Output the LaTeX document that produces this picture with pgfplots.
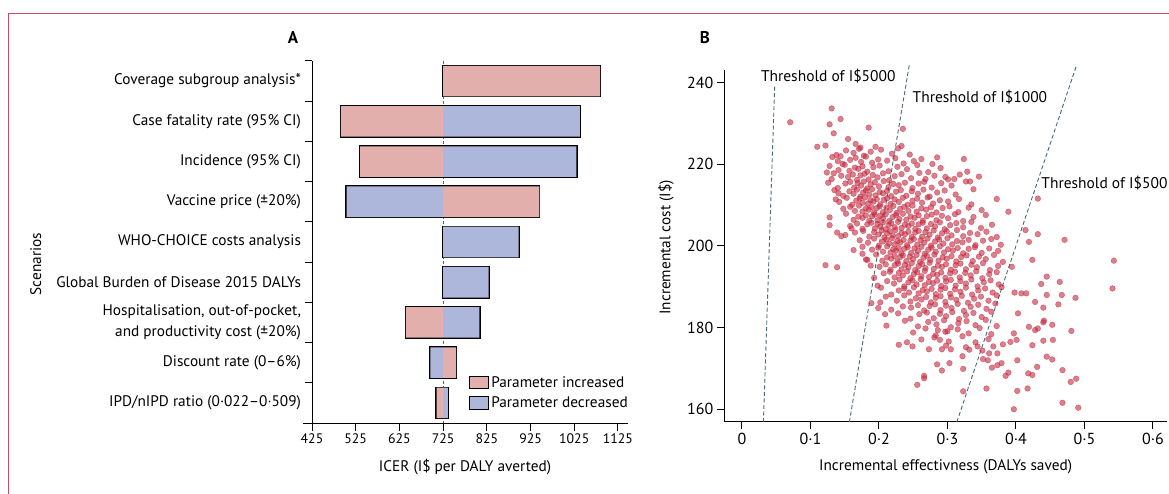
\documentclass[border=0pt]{standalone}
\usepackage{fontspec}
\setmainfont{PT Sans}
\usepackage{pgfplots}
\pgfplotsset{compat=1.18}
\usepackage{pgfplotstable}

\definecolor{incr}{RGB}{227,175,172}
\definecolor{decr}{RGB}{173,183,219}
\definecolor{thr}{RGB}{74,104,120}
\definecolor{dot}{RGB}{196,40,62}
\definecolor{framecol}{RGB}{196,78,104}

% panel A: ICER when the parameter is increased / decreased
\pgfplotstableread{
pos val
1 1084
2 491
3 535
4 945
7 640
8 755
9 710
}\increased
\pgfplotstableread{
pos val
2 1038
3 1030
4 504
5 898
6 829
7 808
8 696
9 736
}\decreased

% panel B: probabilistic sensitivity analysis (read off the cloud)
\pgfplotstableread{
x y
0.0704 230.3
0.131 233.7
0.144 231.1
0.128 229.8
0.134 227.6
0.185 229.0
0.235 228.7
0.110 224.3
0.122 224.6
0.155 226.2
0.166 225.0
0.195 224.3
0.233 224.5
0.173 224.1
0.124 218.0
0.134 217.8
0.140 220.8
0.144 222.0
0.324 221.3
0.329 218.2
0.346 217.0
0.333 215.8
0.310 216.4
0.301 216.3
0.278 220.1
0.251 220.8
0.372 211.5
0.432 211.6
0.389 208.4
0.414 203.9
0.419 201.0
0.432 202.9
0.471 201.5
0.424 196.6
0.394 194.9
0.543 196.4
0.541 189.6
0.445 192.5
0.437 190.7
0.464 191.2
0.445 188.0
0.467 188.0
0.487 187.3
0.398 188.6
0.408 188.4
0.415 188.4
0.462 185.7
0.440 184.9
0.428 186.3
0.403 183.5
0.441 181.7
0.453 180.7
0.440 181.3
0.419 180.2
0.428 179.4
0.432 179.8
0.481 179.2
0.397 178.6
0.401 177.0
0.440 176.8
0.454 177.0
0.424 175.7
0.392 176.5
0.445 172.9
0.431 170.4
0.453 172.2
0.402 172.0
0.389 169.0
0.385 168.2
0.418 168.8
0.424 168.4
0.468 169.6
0.488 167.5
0.480 166.7
0.402 164.5
0.417 165.1
0.468 161.6
0.491 160.4
0.397 160.0
0.357 165.1
0.323 164.4
0.256 166.0
0.266 168.2
0.266 167.6
0.229 175.8
0.241 176.4
0.249 175.4
0.211 180.5
0.209 183.3
0.199 184.8
0.202 186.2
0.189 186.0
0.122 195.3
0.139 194.8
0.163 199.0
0.139 203.3
0.145 202.4
0.151 202.7
0.128 205.1
0.128 207.0
0.137 211.4
0.141 212.9
0.160 204.3
0.181 196.7
0.176 199.8
0.286 179.4
0.297 179.0
0.289 177.0
0.292 174.7
0.305 174.7
0.285 171.0
0.303 171.3
0.292 169.5
0.323 169.9
0.322 173.0
0.332 174.6
0.359 172.0
0.352 172.3
0.365 170.2
0.373 173.7
0.361 173.7
0.344 175.4
0.367 175.4
0.381 175.9
0.379 171.3
0.373 170.8
0.138 222.3
0.152 223.4
0.163 222.8
0.171 223.8
0.178 222.1
0.188 223.1
0.203 223.6
0.219 222.6
0.228 223.9
0.245 222.4
0.132 221.8
0.147 220.1
0.158 221.1
0.166 221.6
0.174 220.6
0.181 221.9
0.190 220.4
0.199 221.2
0.212 220.9
0.224 221.5
0.236 220.2
0.262 221.3
0.285 221.7
0.128 219.6
0.141 218.6
0.150 219.9
0.157 218.4
0.165 219.2
0.170 218.9
0.176 219.5
0.183 218.2
0.192 219.3
0.201 219.7
0.214 218.3
0.227 219.4
0.241 218.8
0.256 219.8
0.272 218.1
0.290 219.1
0.131 216.4
0.145 217.2
0.155 216.9
0.162 217.5
0.168 216.2
0.173 217.3
0.179 217.7
0.185 216.3
0.191 217.4
0.198 216.8
0.206 217.8
0.215 216.1
0.223 217.1
0.233 217.6
0.247 216.6
0.259 217.9
0.268 216.4
0.281 217.2
0.297 216.9
0.318 217.5
0.126 215.5
0.140 214.2
0.151 215.3
0.158 215.7
0.164 214.3
0.169 215.4
0.174 214.8
0.178 215.8
0.183 214.1
0.188 215.1
0.194 215.6
0.200 214.6
0.207 215.9
0.214 214.4
0.221 215.2
0.229 214.9
0.238 215.5
0.249 214.2
0.258 215.3
0.266 215.7
0.277 214.3
0.291 215.4
0.306 214.8
0.327 215.8
0.135 213.7
0.148 212.3
0.157 213.4
0.163 212.8
0.168 213.8
0.173 212.1
0.177 213.1
0.181 213.6
0.186 212.6
0.190 213.9
0.195 212.4
0.201 213.2
0.206 212.9
0.212 213.5
0.218 212.2
0.225 213.3
0.232 213.7
0.240 212.3
0.248 213.4
0.257 212.8
0.265 213.8
0.274 212.1
0.285 213.1
0.296 213.6
0.312 212.6
0.338 213.9
0.142 210.8
0.153 211.8
0.161 210.1
0.167 211.1
0.172 211.6
0.176 210.6
0.180 211.9
0.184 210.4
0.188 211.2
0.192 210.9
0.197 211.5
0.202 210.2
0.207 211.3
0.212 211.7
0.217 210.3
0.223 211.4
0.229 210.8
0.235 211.8
0.242 210.1
0.249 211.1
0.256 211.6
0.263 210.6
0.271 211.9
0.279 210.4
0.289 211.2
0.301 210.9
0.317 211.5
0.335 210.2
0.148 209.1
0.158 209.6
0.165 208.6
0.171 209.9
0.176 208.4
0.181 209.2
0.185 208.9
0.189 209.5
0.193 208.2
0.197 209.3
0.201 209.7
0.206 208.3
0.211 209.4
0.216 208.8
0.221 209.8
0.226 208.1
0.231 209.1
0.237 209.6
0.243 208.6
0.249 209.9
0.255 208.4
0.262 209.2
0.269 208.9
0.276 209.5
0.284 208.2
0.293 209.3
0.303 209.7
0.316 208.3
0.331 209.4
0.350 208.8
0.152 207.9
0.163 206.4
0.170 207.2
0.176 206.9
0.181 207.5
0.186 206.2
0.190 207.3
0.194 207.7
0.198 206.3
0.202 207.4
0.206 206.8
0.210 207.8
0.215 206.1
0.220 207.1
0.225 207.6
0.230 206.6
0.235 207.9
0.240 206.4
0.246 207.2
0.252 206.9
0.258 207.5
0.264 206.2
0.270 207.3
0.277 207.7
0.284 206.3
0.292 207.4
0.301 206.8
0.311 207.8
0.323 206.1
0.338 207.1
0.356 207.6
0.158 204.9
0.168 205.5
0.176 204.2
0.183 205.3
0.189 205.7
0.194 204.3
0.198 205.4
0.202 204.8
0.206 205.8
0.210 204.1
0.214 205.1
0.218 205.6
0.223 204.6
0.228 205.9
0.233 204.4
0.238 205.2
0.243 204.9
0.248 205.5
0.253 204.2
0.258 205.3
0.264 205.7
0.270 204.3
0.276 205.4
0.282 204.8
0.289 205.8
0.296 204.1
0.304 205.1
0.313 205.6
0.323 204.6
0.335 205.9
0.349 204.4
0.365 205.2
0.165 203.3
0.177 203.7
0.186 202.3
0.193 203.4
0.199 202.8
0.204 203.8
0.208 202.1
0.212 203.1
0.216 203.6
0.220 202.6
0.224 203.9
0.228 202.4
0.233 203.2
0.238 202.9
0.243 203.5
0.248 202.2
0.253 203.3
0.258 203.7
0.263 202.3
0.268 203.4
0.274 202.8
0.280 203.8
0.286 202.1
0.292 203.1
0.299 203.6
0.306 202.6
0.314 203.9
0.323 202.4
0.333 203.2
0.344 202.9
0.357 203.5
0.372 202.2
0.172 201.4
0.184 200.8
0.193 201.8
0.200 200.1
0.206 201.1
0.211 201.6
0.215 200.6
0.219 201.9
0.223 200.4
0.227 201.2
0.231 200.9
0.236 201.5
0.241 200.2
0.246 201.3
0.251 201.7
0.256 200.3
0.261 201.4
0.266 200.8
0.271 201.8
0.276 200.1
0.282 201.1
0.288 201.6
0.294 200.6
0.300 201.9
0.307 200.4
0.314 201.2
0.322 200.9
0.331 201.5
0.341 200.2
0.352 201.3
0.364 201.7
0.378 200.3
0.176 198.1
0.190 199.1
0.199 199.6
0.206 198.6
0.212 199.9
0.217 198.4
0.221 199.2
0.225 198.9
0.229 199.5
0.233 198.2
0.237 199.3
0.242 199.7
0.247 198.3
0.252 199.4
0.257 198.8
0.262 199.8
0.267 198.1
0.272 199.1
0.277 199.6
0.283 198.6
0.289 199.9
0.295 198.4
0.301 199.2
0.308 198.9
0.315 199.5
0.323 198.2
0.331 199.3
0.340 199.7
0.350 198.3
0.361 199.4
0.374 198.8
0.183 196.6
0.196 197.9
0.205 196.4
0.212 197.2
0.218 196.9
0.223 197.5
0.227 196.2
0.231 197.3
0.235 197.7
0.240 196.3
0.245 197.4
0.250 196.8
0.255 197.8
0.260 196.1
0.265 197.1
0.270 197.6
0.275 196.6
0.281 197.9
0.287 196.4
0.293 197.2
0.299 196.9
0.306 197.5
0.313 196.2
0.320 197.3
0.328 197.7
0.337 196.3
0.346 197.4
0.356 196.8
0.368 197.8
0.381 196.1
0.188 195.2
0.201 194.9
0.210 195.5
0.217 194.2
0.223 195.3
0.228 195.7
0.233 194.3
0.238 195.4
0.243 194.8
0.248 195.8
0.253 194.1
0.258 195.1
0.263 195.6
0.268 194.6
0.274 195.9
0.280 194.4
0.286 195.2
0.292 194.9
0.298 195.5
0.305 194.2
0.312 195.3
0.319 195.7
0.327 194.3
0.335 195.4
0.343 194.8
0.352 195.8
0.362 194.1
0.374 195.1
0.193 192.2
0.207 193.3
0.216 193.7
0.223 192.3
0.229 193.4
0.235 192.8
0.241 193.8
0.246 192.1
0.251 193.1
0.256 193.6
0.262 192.6
0.267 193.9
0.273 192.4
0.279 193.2
0.285 192.9
0.291 193.5
0.297 192.2
0.304 193.3
0.311 193.7
0.318 192.3
0.326 193.4
0.334 192.8
0.342 193.8
0.351 192.1
0.361 193.1
0.372 193.6
0.198 190.3
0.212 191.4
0.222 190.8
0.230 191.8
0.237 190.1
0.243 191.1
0.249 191.6
0.255 190.6
0.261 191.9
0.267 190.4
0.273 191.2
0.279 190.9
0.285 191.5
0.291 190.2
0.298 191.3
0.305 191.7
0.312 190.3
0.319 191.4
0.327 190.8
0.335 191.8
0.344 190.1
0.353 191.1
0.363 191.6
0.375 190.6
0.203 189.8
0.218 188.1
0.229 189.1
0.237 189.6
0.244 188.6
0.251 189.9
0.258 188.4
0.264 189.2
0.270 188.9
0.277 189.5
0.283 188.2
0.290 189.3
0.297 189.7
0.304 188.3
0.311 189.4
0.319 188.8
0.327 189.8
0.336 188.1
0.345 189.1
0.355 189.6
0.366 188.6
0.379 189.9
0.210 187.6
0.226 186.6
0.237 187.9
0.246 186.4
0.254 187.2
0.262 186.9
0.269 187.5
0.276 186.2
0.283 187.3
0.290 187.7
0.297 186.3
0.305 187.4
0.313 186.8
0.321 187.8
0.330 186.1
0.339 187.1
0.349 187.6
0.360 186.6
0.372 187.9
0.218 184.4
0.235 185.2
0.247 184.9
0.257 185.5
0.266 184.2
0.274 185.3
0.282 185.7
0.290 184.3
0.298 185.4
0.306 184.8
0.315 185.8
0.324 184.1
0.334 185.1
0.345 185.6
0.357 184.6
0.370 185.9
0.228 183.5
0.246 182.2
0.259 183.3
0.270 183.7
0.280 182.3
0.289 183.4
0.298 182.8
0.307 183.8
0.317 182.1
0.327 183.1
0.338 183.6
0.350 182.6
0.364 183.9
0.238 181.7
0.257 180.3
0.272 181.4
0.284 180.8
0.295 181.8
0.305 180.1
0.316 181.1
0.328 181.6
0.341 180.6
0.356 181.9
0.372 180.4
0.250 178.8
0.268 179.8
0.283 178.1
0.300 179.1
0.315 179.6
0.331 178.6
0.347 179.9
0.364 178.4
0.262 177.1
0.281 177.6
0.302 176.6
0.322 177.9
0.341 176.4
0.360 177.2
0.273 174.7
0.298 175.6
0.327 175.2
0.351 174.4
}\psa

\newcommand\catfont{\fontsize{15.3}{21}\selectfont}
\newcommand\tickA{\fontsize{13.8}{15}\selectfont}
\newcommand\tickB{\fontsize{16}{18}\selectfont}
\newcommand\labfont{\fontsize{15.3}{17}\selectfont}

\begin{document}
\begin{tikzpicture}
\useasboundingbox (0pt,0pt) rectangle (1169pt,494pt);
\draw[framecol, line width=0.9pt] (8.5pt,0pt) -- (8.5pt,481pt) -- (1169pt,481pt);

\node[font=\fontsize{17}{19}\selectfont\bfseries] at (293pt,456pt) {A};
\node[font=\fontsize{17}{19}\selectfont\bfseries] at (705pt,456pt) {B};

% ---------- panel A: tornado ----------
\begin{axis}[
  at={(312pt,71pt)}, anchor=south west, scale only axis,
  width=316pt, height=362pt,
  xmin=-300, xmax=423, ymin=0.5, ymax=9.5, y dir=reverse,
  clip=false,
  axis x line*=bottom, axis y line*=left,
  x axis line style={draw=none},
  y axis line style={-, line width=1pt},
  tick align=outside, major tick length=7.5pt,
  tick style={black, line width=1pt},
  x filter/.expression={x-725},
  xtick={-300,-200,...,400},
  xticklabels={425,525,625,725,825,925,1025,1125},
  xticklabel style={font=\tickA},
  ytick={0.5,1.5,...,8.5}, yticklabels={},
  extra y ticks={1,2,3,4,5,6,7,8,9},
  extra y tick labels={{Coverage subgroup analysis*},{Case fatality rate (95\% CI)},{Incidence (95\% CI)},{Vaccine price (±20\%)},{WHO-CHOICE costs analysis},{Global Burden of Disease 2015 DALYs},{Hospitalisation, out-of-pocket,\\and productivity cost (±20\%)},{Discount rate (0–6\%)},{IPD/nIPD ratio (0·022–0·509)}},
  extra y tick style={tick style={draw=none}, yticklabel style={align=right, font=\catfont}},
  legend style={at={(0.497,0.135)}, anchor=north west, draw=none, fill=none,
    inner sep=0pt, row sep=4pt, font=\labfont, cells={anchor=west}},
  legend image code/.code={\draw[#1, draw=black, line width=1.1pt] (0pt,-6.3pt) rectangle (19pt,6.3pt);},
]
\addplot[thr, line width=0.9pt, dash pattern=on 3pt off 2pt, forget plot] coordinates {(725,0.5) (725,9.5)};
\addplot[xbar, bar width=0.76, bar shift=0pt, fill=incr, draw=black, line width=2.2pt, forget plot] table[x=val, y=pos] {\increased};
\addplot[xbar, bar width=0.76, bar shift=0pt, fill=decr, draw=black, line width=2.2pt, forget plot] table[x=val, y=pos] {\decreased};
\addplot[xbar, bar width=0.76, bar shift=0pt, fill=incr, draw=none] table[x=val, y=pos] {\increased};
\addplot[xbar, bar width=0.76, bar shift=0pt, fill=decr, draw=none] table[x=val, y=pos] {\decreased};
\legend{Parameter increased, Parameter decreased}
\draw[line width=1pt] (axis cs:-321,9.5) -- (axis cs:423,9.5);
\end{axis}

\node[font=\labfont] at (465pt,27.3pt) {ICER (I\$ per DALY averted)};
\node[font=\labfont, rotate=90] at (35.8pt,230pt) {Scenarios};

% ---------- panel B: cost-effectiveness plane ----------
\begin{axis}[
  at={(724.3pt,72pt)}, anchor=south west, scale only axis,
  width=442.7pt, height=352pt,
  xmin=-0.0257, xmax=0.6206, ymin=156.89, ymax=243.11,
  clip=false,
  axis x line*=bottom, axis y line*=left,
  axis line style={-, line width=1pt},
  tick align=outside, major tick length=7.5pt,
  tick style={black, line width=1pt},
  xtick={0,0.1,0.2,0.3,0.4,0.5,0.6},
  xticklabels={0,0·1,0·2,0·3,0·4,0·5,0·6},
  ytick={160,180,200,220,240},
  /pgf/number format/assume math mode=true,
  ticklabel style={font=\tickB},
]
\addplot[only marks, mark=*, mark size=2.85pt, color=dot, mark options={draw=none, fill=dot, opacity=0.6}] table[x=x, y=y] {\psa};
\addplot[thr, line width=0.9pt, dash pattern=on 4pt off 2.5pt] coordinates {(0.0314,156.9) (0.0479,239.4)};
\addplot[thr, line width=0.9pt, dash pattern=on 4pt off 2.5pt] coordinates {(0.1569,156.9) (0.2443,244.3)};
\addplot[thr, line width=0.9pt, dash pattern=on 4pt off 2.5pt] coordinates {(0.3138,156.9) (0.4882,244.1)};
\node[anchor=west, inner sep=0pt, font=\fontsize{15.5}{17}\selectfont] at (axis cs:0.0276,241.6) {Threshold of I\$5000};
\node[anchor=west, inner sep=0pt, font=\fontsize{15.5}{17}\selectfont] at (axis cs:0.249,236.5) {Threshold of I\$1000};
\node[anchor=west, inner sep=0pt, font=\fontsize{15.5}{17}\selectfont] at (axis cs:0.437,215.4) {Threshold of I\$500};
\end{axis}

\node[font=\labfont] at (945.6pt,27.3pt) {Incremental effectivness (DALYs saved)};
\node[font=\labfont, rotate=90] at (666pt,246.5pt) {Incremental cost (I\$)};
\end{tikzpicture}
\end{document}
